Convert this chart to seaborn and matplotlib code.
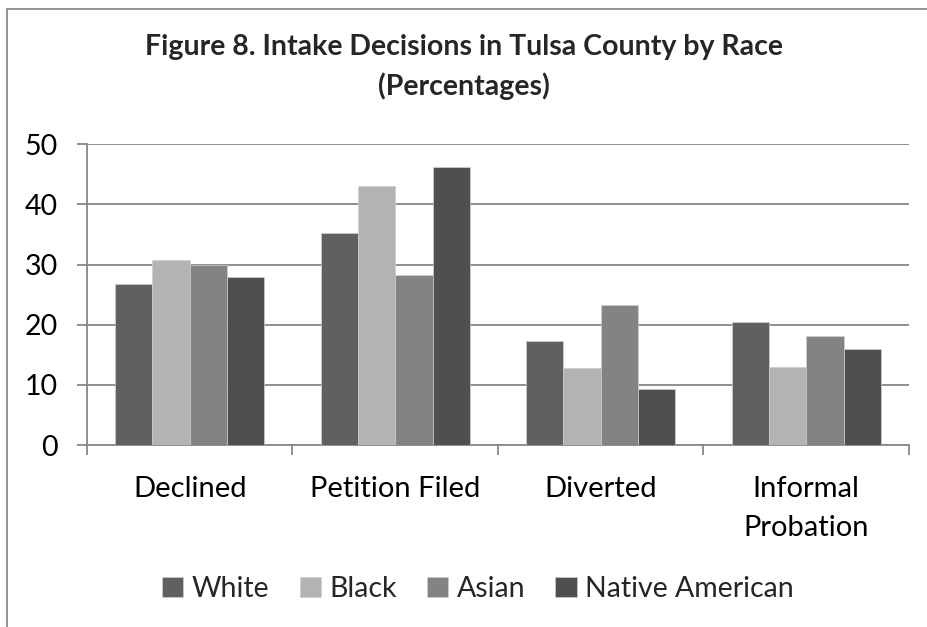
import matplotlib
matplotlib.use("Agg")
import matplotlib.pyplot as plt
from matplotlib.patches import Rectangle
from matplotlib.ticker import FixedLocator
import seaborn as sns
import pandas as pd

# Intake decision categories and percentage shares per race
decisions = ["Declined", "Petition Filed", "Diverted", "Informal\nProbation"]
races = ["White", "Black", "Asian", "Native American"]
white = [26.8, 35.2, 17.3, 20.4]
black = [30.8, 43.0, 12.8, 13.0]
asian = [30.0, 28.2, 23.2, 18.1]
native = [28.0, 46.2, 9.3, 16.0]
yticks = [0, 10, 20, 30, 40, 50]

palette = {"White": "#606060", "Black": "#b3b3b3",
           "Asian": "#838383", "Native American": "#4f4f4f"}

rows = []
for race, vals in zip(races, [white, black, asian, native]):
    for d, v in zip(decisions, vals):
        rows.append({"Decision": d, "Race": race, "Percent": v})
df = pd.DataFrame(rows)

sns.set_theme(style="white")
plt.rcParams["font.family"] = ["Lato", "DejaVu Sans"]

fig = plt.figure(figsize=(9.28, 6.27), dpi=100)
ax = fig.add_axes([87 / 928, 1 - 445 / 627, (909 - 87) / 928, (445 - 144.3) / 627])

sns.barplot(data=df, x="Decision", y="Percent", hue="Race", order=decisions,
            hue_order=races, palette=palette, width=0.727, saturation=1,
            edgecolor="#cfcfcf", linewidth=0.5, ax=ax, zorder=3)

grid_c = "#878787"
ax.set_ylim(0, 50)
ax.set_xlim(-0.5, len(decisions) - 0.5)
ax.yaxis.set_major_locator(FixedLocator(yticks))
ax.grid(axis="y", color=grid_c, linewidth=1.3, zorder=0)
ax.set_axisbelow(True)
for s in ["top", "right"]:
    ax.spines[s].set_visible(False)
for s in ["left", "bottom"]:
    ax.spines[s].set_color(grid_c)
    ax.spines[s].set_linewidth(1.3)

ax.set_xlabel("")
ax.set_ylabel("")
ax.tick_params(axis="y", which="major", direction="out", length=7, width=1.3,
               color=grid_c, labelsize=20.5, pad=14, left=True, labelcolor="black")
ax.tick_params(axis="x", which="major", length=0, labelsize=21, pad=22,
               labelcolor="black")
ax.set_xticks(range(len(decisions)))
ax.set_xticklabels(decisions, linespacing=1.65)
ax.xaxis.set_minor_locator(FixedLocator([i - 0.5 for i in range(len(decisions) + 1)]))
ax.tick_params(axis="x", which="minor", direction="out", length=7, width=1.3,
               color=grid_c, bottom=True)

# Legend along the bottom
handles, labels = ax.get_legend_handles_labels()
ax.get_legend().remove()
fig.legend(handles, labels, loc="center", bbox_to_anchor=(478 / 928, 1 - 589 / 627),
           ncol=4, frameon=False, fontsize=20.5, handlelength=0.75, handleheight=0.75,
           handletextpad=0.3, columnspacing=1.05)

fig.text(464 / 928, 1 - 67 / 627,
         "Figure 8. Intake Decisions in Tulsa County by Race\n(Percentages)",
         ha="center", va="center", fontsize=20.5, fontweight="bold",
         linespacing=1.55)

# Chart frame
fig.patches.append(Rectangle((7 / 928, -0.2), 1.2, 0.2 + 1 - 9 / 627,
                             transform=fig.transFigure, fill=False,
                             edgecolor="#8a8a8a", linewidth=1.3))

fig.savefig("out.png", dpi=100)
